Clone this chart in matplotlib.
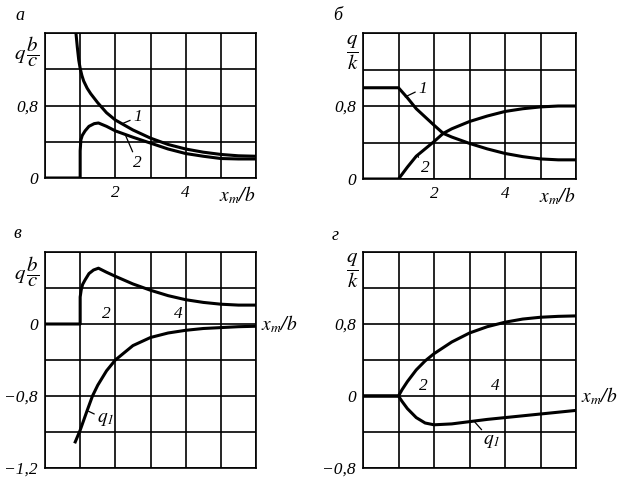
import matplotlib
matplotlib.use('Agg')
import matplotlib.pyplot as plt
import numpy as np

plt.rcParams['font.family'] = ['Liberation Serif', 'DejaVu Serif']
plt.rcParams['font.style'] = 'italic'
plt.rcParams['mathtext.fontset'] = 'stix'
plt.rcParams['font.size'] = 11

# panel a: curves 1 and 2
a1_x = [0.88, 0.92, 0.96, 1.0, 1.05, 1.1, 1.2, 1.3, 1.5, 1.75, 2.0, 2.5, 3.0, 3.5, 4.0, 4.5, 5.0, 5.5, 6.0]
a1_y = [1.6, 1.44, 1.3, 1.21, 1.13, 1.07, 0.99, 0.93, 0.83, 0.72, 0.64, 0.53, 0.44, 0.37, 0.32, 0.285, 0.26, 0.245, 0.24]
a2_x = [0, 1.0, 1.0, 1.02, 1.06, 1.14, 1.25, 1.4, 1.52, 1.75, 2.0, 2.5, 3.0, 3.5, 4.0, 4.5, 5.0, 5.5, 6.0]
a2_y = [0, 0, 0.30, 0.42, 0.47, 0.52, 0.57, 0.60, 0.607, 0.57, 0.52, 0.45, 0.385, 0.32, 0.27, 0.24, 0.215, 0.21, 0.21]

# panel b
b1_x = [0, 1, 1.25, 1.5, 2.0, 2.26, 2.5, 3.0, 3.5, 4.0, 4.5, 5.0, 5.5, 6.0]
b1_y = [1.0, 1.0, 0.89, 0.77, 0.59, 0.50, 0.46, 0.39, 0.33, 0.28, 0.245, 0.22, 0.21, 0.21]
b2_x = [0, 1, 1.25, 1.5, 2.0, 2.26, 2.5, 3.0, 3.5, 4.0, 4.5, 5.0, 5.5, 6.0]
b2_y = [0, 0, 0.13, 0.25, 0.41, 0.50, 0.55, 0.63, 0.69, 0.74, 0.77, 0.79, 0.80, 0.80]

# panel v
v1_x = [0, 1.0, 1.0, 1.03, 1.07, 1.14, 1.25, 1.38, 1.52, 1.75, 2.0, 2.5, 3.0, 3.5, 4.0, 4.5, 5.0, 5.5, 6.0]
v1_y = [0, 0, 0.30, 0.38, 0.44, 0.49, 0.56, 0.60, 0.62, 0.575, 0.53, 0.445, 0.375, 0.315, 0.27, 0.24, 0.22, 0.21, 0.21]
v2_x = [0.86, 1.0, 1.2, 1.35, 1.5, 1.75, 2.0, 2.5, 3.0, 3.5, 4.0, 4.5, 5.0, 5.5, 6.0]
v2_y = [-1.31, -1.18, -0.96, -0.80, -0.68, -0.52, -0.40, -0.24, -0.15, -0.10, -0.07, -0.05, -0.04, -0.03, -0.025]

# panel g
g1_x = [0, 1, 1.1, 1.25, 1.5, 1.75, 2.0, 2.5, 3.0, 3.5, 4.0, 4.5, 5.0, 5.5, 6.0]
g1_y = [0, 0, 0.07, 0.16, 0.29, 0.39, 0.47, 0.60, 0.70, 0.77, 0.82, 0.855, 0.875, 0.885, 0.89]
g2_x = [0, 1, 1.1, 1.25, 1.5, 1.75, 2.0, 2.5, 3.0, 3.5, 4.0, 4.5, 5.0, 5.5, 6.0]
g2_y = [0, 0, -0.06, -0.14, -0.24, -0.30, -0.32, -0.31, -0.285, -0.26, -0.24, -0.22, -0.20, -0.18, -0.16]

x_ticks = [0, 1, 2, 3, 4, 5, 6]
x_labels_top = ['', '', '2', '', '4', '', '']
top_yticks = [0, 0.4, 0.8, 1.2, 1.6]
top_ylabels = ['0', '', '0,8', '', '']
v_yticks = [-1.6, -1.2, -0.8, -0.4, 0, 0.4, 0.8]
v_ylabels = ['\u22121,2', '', '\u22120,8', '', '0', '', '']
g_yticks = [-0.8, -0.4, 0, 0.4, 0.8, 1.2, 1.6]
g_ylabels = ['\u22120,8', '', '0', '', '0,8', '', '']

W, H = 623, 482
fig = plt.figure(figsize=(W / 100, H / 100), dpi=100)


def px_axes(l, t, r, b):
    return fig.add_axes([l / W, 1 - b / H, (r - l) / W, (b - t) / H])


def style(ax, yticks, ylabels, xlabels, ylim):
    ax.set_xlim(0, 6)
    ax.set_ylim(*ylim)
    ax.set_xticks(x_ticks)
    ax.set_xticklabels(xlabels)
    ax.set_yticks(yticks)
    ax.set_yticklabels(ylabels)
    ax.grid(True, color='black', lw=1.2)
    ax.set_axisbelow(True)
    for s in ax.spines.values():
        s.set_linewidth(1.2)
    ax.tick_params(length=0, labelsize=12.5, pad=5)


lw = 2.2
ax_a = px_axes(45, 33, 256, 178)
ax_b = px_axes(363, 33, 576, 179)
ax_v = px_axes(45, 252, 256, 468)
ax_g = px_axes(363, 252, 576, 468)

style(ax_a, top_yticks, top_ylabels, x_labels_top, (0, 1.6))
style(ax_b, top_yticks, top_ylabels, x_labels_top, (0, 1.6))
style(ax_v, v_yticks, v_ylabels, [''] * 7, (-1.6, 0.8))
style(ax_g, g_yticks, g_ylabels, [''] * 7, (-0.8, 1.6))

ax_a.plot(a1_x, a1_y, color='black', lw=lw)
ax_a.plot(a2_x, a2_y, color='black', lw=lw)
ax_b.plot(b1_x, b1_y, color='black', lw=lw)
ax_b.plot(b2_x, b2_y, color='black', lw=lw)
ax_v.plot(v1_x, v1_y, color='black', lw=lw)
ax_v.plot(v2_x, v2_y, color='black', lw=lw)
ax_g.plot(g1_x, g1_y, color='black', lw=lw)
ax_g.plot(g2_x, g2_y, color='black', lw=lw)

lead = dict(arrowstyle='-', color='black', lw=0.9, shrinkA=0, shrinkB=0)
ax_a.annotate('1', xy=(2.2, 0.6), xytext=(2.5, 0.67), ha='left', va='center', fontsize=12.5, arrowprops=lead)
ax_a.annotate('2', xy=(2.28, 0.48), xytext=(2.5, 0.17), ha='left', va='center', fontsize=12.5, arrowprops=lead)
ax_b.annotate('1', xy=(1.19, 0.9), xytext=(1.55, 0.99), ha='left', va='center', fontsize=12.5, arrowprops=lead)
ax_b.annotate('2', xy=(1.53, 0.26), xytext=(1.62, 0.12), ha='left', va='center', fontsize=12.5, arrowprops=lead)
ax_v.annotate(r'$q_{\mathrm{1}}$', xy=(1.24, -0.97), xytext=(1.48, -1.06), ha='left', va='center', fontsize=14, arrowprops=lead)
ax_g.annotate(r'$q_{\mathrm{1}}$', xy=(3.15, -0.29), xytext=(3.38, -0.5), ha='left', va='center', fontsize=14, arrowprops=lead)

# x tick numbers inside lower panels
ax_v.text(1.74, 0.02, '2', ha='center', va='bottom', fontsize=12.5)
ax_v.text(3.8, 0.02, '4', ha='center', va='bottom', fontsize=12.5)
ax_g.text(1.7, 0.02, '2', ha='center', va='bottom', fontsize=12.5)
ax_g.text(3.72, 0.02, '4', ha='center', va='bottom', fontsize=12.5)

# axis names
xl = '$x_m/b$'
ax_a.text(1.0, -0.04, xl, transform=ax_a.transAxes, ha='right', va='top', fontsize=14)
ax_b.text(1.0, -0.04, xl, transform=ax_b.transAxes, ha='right', va='top', fontsize=14)
ax_v.text(6.15, 0, xl, ha='left', va='center', fontsize=14, clip_on=False)
ax_g.text(6.15, 0, xl, ha='left', va='center', fontsize=14, clip_on=False)

fig.text(27 / W, 1 - 52 / H, r'$q\,\dfrac{b}{c}$', ha='center', va='center', fontsize=15)
fig.text(27 / W, 1 - 272 / H, r'$q\,\dfrac{b}{c}$', ha='center', va='center', fontsize=15)
fig.text(352 / W, 1 - 53 / H, r'$\dfrac{q}{k}$', ha='center', va='center', fontsize=15)
fig.text(352 / W, 1 - 271 / H, r'$\dfrac{q}{k}$', ha='center', va='center', fontsize=15)

# panel letters
fig.text(20 / W, 1 - 15 / H, 'а', ha='center', va='center', fontsize=13)
fig.text(338 / W, 1 - 15 / H, 'б', ha='center', va='center', fontsize=13)
fig.text(17 / W, 1 - 233 / H, 'в', ha='center', va='center', fontsize=13)
fig.text(335 / W, 1 - 235 / H, 'г', ha='center', va='center', fontsize=13)

fig.savefig('out.png', dpi=100, facecolor='white')
